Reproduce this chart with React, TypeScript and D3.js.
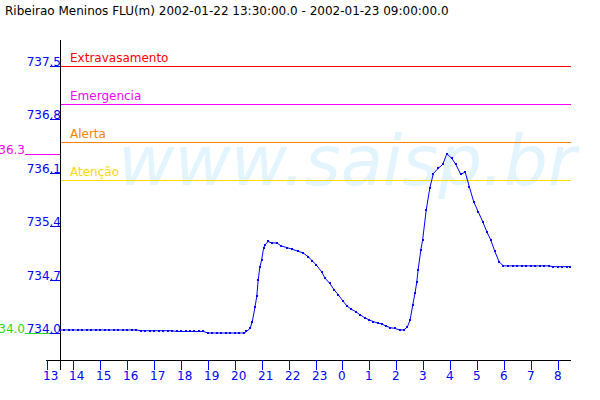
import React from 'react';
import * as d3 from 'd3';

const TITLE = 'Ribeirao Meninos FLU(m) 2002-01-22 13:30:00.0 - 2002-01-23 09:00:00.0';
const WATERMARK = 'www.saisp.br';

const times: string[] = [
  '2002-01-22 13:30', '2002-01-22 13:40', '2002-01-22 13:50', '2002-01-22 14:00', '2002-01-22 14:10',
  '2002-01-22 14:20', '2002-01-22 14:30', '2002-01-22 14:40', '2002-01-22 14:50', '2002-01-22 15:00',
  '2002-01-22 15:10', '2002-01-22 15:20', '2002-01-22 15:30', '2002-01-22 15:40', '2002-01-22 15:50',
  '2002-01-22 16:00', '2002-01-22 16:10', '2002-01-22 16:20', '2002-01-22 16:30', '2002-01-22 16:40',
  '2002-01-22 16:50', '2002-01-22 17:00', '2002-01-22 17:10', '2002-01-22 17:20', '2002-01-22 17:30',
  '2002-01-22 17:40', '2002-01-22 17:50', '2002-01-22 18:00', '2002-01-22 18:10', '2002-01-22 18:20',
  '2002-01-22 18:30', '2002-01-22 18:40', '2002-01-22 18:50', '2002-01-22 19:00', '2002-01-22 19:10',
  '2002-01-22 19:20', '2002-01-22 19:30', '2002-01-22 19:40', '2002-01-22 19:50', '2002-01-22 20:00',
  '2002-01-22 20:10', '2002-01-22 20:20', '2002-01-22 20:26', '2002-01-22 20:34', '2002-01-22 20:39',
  '2002-01-22 20:45', '2002-01-22 20:49', '2002-01-22 20:52', '2002-01-22 20:56', '2002-01-22 21:00',
  '2002-01-22 21:04', '2002-01-22 21:07', '2002-01-22 21:14', '2002-01-22 21:22', '2002-01-22 21:34',
  '2002-01-22 21:44', '2002-01-22 21:56', '2002-01-22 22:07', '2002-01-22 22:22', '2002-01-22 22:32',
  '2002-01-22 22:44', '2002-01-22 22:52', '2002-01-22 23:02', '2002-01-22 23:14', '2002-01-22 23:21',
  '2002-01-22 23:32', '2002-01-22 23:41', '2002-01-22 23:51', '2002-01-23 00:01', '2002-01-23 00:11',
  '2002-01-23 00:20', '2002-01-23 00:30', '2002-01-23 00:39', '2002-01-23 00:50', '2002-01-23 01:00',
  '2002-01-23 01:09', '2002-01-23 01:19', '2002-01-23 01:28', '2002-01-23 01:37', '2002-01-23 01:47',
  '2002-01-23 01:57', '2002-01-23 02:08', '2002-01-23 02:17', '2002-01-23 02:25', '2002-01-23 02:31',
  '2002-01-23 02:37', '2002-01-23 02:42', '2002-01-23 02:46', '2002-01-23 02:49', '2002-01-23 02:55',
  '2002-01-23 02:59', '2002-01-23 03:07', '2002-01-23 03:15', '2002-01-23 03:23', '2002-01-23 03:34',
  '2002-01-23 03:44', '2002-01-23 03:53', '2002-01-23 04:04', '2002-01-23 04:13', '2002-01-23 04:24',
  '2002-01-23 04:34', '2002-01-23 04:43', '2002-01-23 04:53', '2002-01-23 05:03', '2002-01-23 05:13',
  '2002-01-23 05:22', '2002-01-23 05:31', '2002-01-23 05:40', '2002-01-23 05:50', '2002-01-23 05:59',
  '2002-01-23 06:10', '2002-01-23 06:20', '2002-01-23 06:30', '2002-01-23 06:40', '2002-01-23 06:50',
  '2002-01-23 07:00', '2002-01-23 07:10', '2002-01-23 07:20', '2002-01-23 07:30', '2002-01-23 07:40',
  '2002-01-23 07:50', '2002-01-23 08:00', '2002-01-23 08:10', '2002-01-23 08:20', '2002-01-23 08:28',
];

const levels: number[] = [
  734.04, 734.04, 734.04, 734.04, 734.04,
  734.04, 734.04, 734.04, 734.04, 734.04,
  734.04, 734.04, 734.04, 734.04, 734.04,
  734.04, 734.04, 734.04, 734.03, 734.03,
  734.03, 734.03, 734.03, 734.03, 734.03,
  734.03, 734.02, 734.02, 734.02, 734.02,
  734.02, 734.02, 734.02, 734.00, 734.00,
  734.00, 734.00, 734.00, 734.00, 734.00,
  734.00, 734.00, 734.02, 734.06, 734.15,
  734.34, 734.48, 734.69, 734.87, 734.96,
  735.11, 735.15, 735.20, 735.18, 735.18,
  735.14, 735.12, 735.10, 735.07, 735.05,
  735.00, 734.95, 734.89, 734.80, 734.72,
  734.65, 734.57, 734.50, 734.42, 734.35,
  734.31, 734.28, 734.24, 734.20, 734.17,
  734.15, 734.13, 734.12, 734.09, 734.07,
  734.06, 734.04, 734.04, 734.08, 734.17,
  734.37, 734.52, 734.67, 734.83, 735.09,
  735.22, 735.61, 735.90, 736.09, 736.16,
  736.21, 736.35, 736.29, 736.21, 736.08,
  736.11, 735.92, 735.72, 735.59, 735.46,
  735.33, 735.22, 735.07, 734.93, 734.88,
  734.88, 734.88, 734.88, 734.88, 734.88,
  734.88, 734.88, 734.88, 734.88, 734.88,
  734.87, 734.87, 734.87, 734.87, 734.87,
];

const yTickValues: number[] = [734.0, 734.7, 735.4, 736.1, 736.8, 737.5];
const thresholdNames: string[] = ['Extravasamento', 'Emergencia', 'Alerta', 'Atenção'];
const thresholdValues: number[] = [737.5, 737.0, 736.5, 736.0];
const xStart = '2002-01-22 13:30';
const xEnd = '2002-01-23 08:30';
const firstHour = '2002-01-22 13:00';
const lastHour = '2002-01-23 08:00';

const thresholdColors = ['#ff0000', '#ff00ff', '#ff8000', '#ffd800'];
const FONT = '"DejaVu Sans", sans-serif';
const BLUE = '#0000ff';

export default function App() {
  const parse = d3.timeParse('%Y-%m-%d %H:%M');
  const data = times.map((t, i) => ({ t: parse(t) as Date, v: levels[i] }));

  const x = d3.scaleTime().domain([parse(xStart) as Date, parse(xEnd) as Date]).range([60, 571]);
  const y = d3.scaleLinear().domain([734.0, 737.5]).range([333, 66]);

  const hourTicks = d3.timeHour.range(parse(firstHour) as Date, d3.timeMinute.offset(parse(lastHour) as Date, 1));
  const fmtHour = d3.timeFormat('%-H');

  const line = d3.line<{ t: Date; v: number }>().x((d) => x(d.t)).y((d) => y(d.v));

  const maxV = d3.max(levels) as number;
  const minV = d3.min(levels) as number;
  const trunc = (v: number) => (Math.floor(v * 10 + 1e-6) / 10).toFixed(1);

  const axisY = 360;
  const axisX = 60;

  return (
    <svg width={600} height={400} style={{ position: 'absolute', left: 0, top: 0, background: '#fff' }} fontFamily={FONT}>
      <rect x={0} y={0} width={600} height={400} fill="#fff" />
      <text x={5} y={15} fontSize={12} fill="#000">{TITLE}</text>

      <text x={118} y={185} fontSize={69} fontStyle="italic" fill="#e2f4fd">{WATERMARK}</text>

      {thresholdNames.map((name, i) => (
        <g key={name}>
          <line x1={axisX} x2={571} y1={Math.round(y(thresholdValues[i])) + 0.5} y2={Math.round(y(thresholdValues[i])) + 0.5}
            stroke={thresholdColors[i]} strokeWidth={1} />
          <text x={70} y={Math.round(y(thresholdValues[i])) - 4} fontSize={12} fill={thresholdColors[i]}>{name}</text>
        </g>
      ))}

      {/* max / min markers */}
      <line x1={25} x2={axisX} y1={Math.round(y(maxV)) + 0.5} y2={Math.round(y(maxV)) + 0.5} stroke="#ff00ff" />
      <text x={25} y={Math.round(y(maxV))} fontSize={12} fill="#ff00ff" textAnchor="end">{trunc(maxV)}</text>
      <line x1={25} x2={axisX} y1={Math.round(y(minV)) + 0.5} y2={Math.round(y(minV)) + 0.5} stroke="#22dd22" />
      <text x={25} y={Math.round(y(minV))} fontSize={12} fill="#22dd22" textAnchor="end">{trunc(minV)}</text>

      {/* y axis */}
      <line x1={axisX + 0.5} x2={axisX + 0.5} y1={40} y2={370} stroke="#000" />
      {yTickValues.map((v) => (
        <g key={v}>
          <line x1={50} x2={axisX} y1={Math.round(y(v)) + 0.5} y2={Math.round(y(v)) + 0.5} stroke={BLUE} />
          <text x={61} y={Math.round(y(v))} fontSize={12} fill={BLUE} textAnchor="end">{v.toFixed(1)}</text>
        </g>
      ))}

      {/* x axis */}
      <line x1={Math.floor(x(hourTicks[0]))} x2={571} y1={axisY + 0.5} y2={axisY + 0.5} stroke="#000" />
      {hourTicks.map((h) => {
        const px = Math.round(x(h)) + 0.5;
        return (
          <g key={h.getTime()}>
            <line x1={px} x2={px} y1={axisY} y2={axisY + 10} stroke={BLUE} />
            <text x={px - 4.5} y={380} fontSize={12} fill={BLUE}>{fmtHour(h)}</text>
          </g>
        );
      })}

      {/* data */}
      <path d={line(data) || ''} fill="none" stroke={BLUE} strokeWidth={1} />
      {data.map((d, i) => (
        <rect key={i} x={Math.round(x(d.t)) - 1} y={Math.round(y(d.v)) - 1} width={2} height={2} fill={BLUE} />
      ))}
    </svg>
  );
}
